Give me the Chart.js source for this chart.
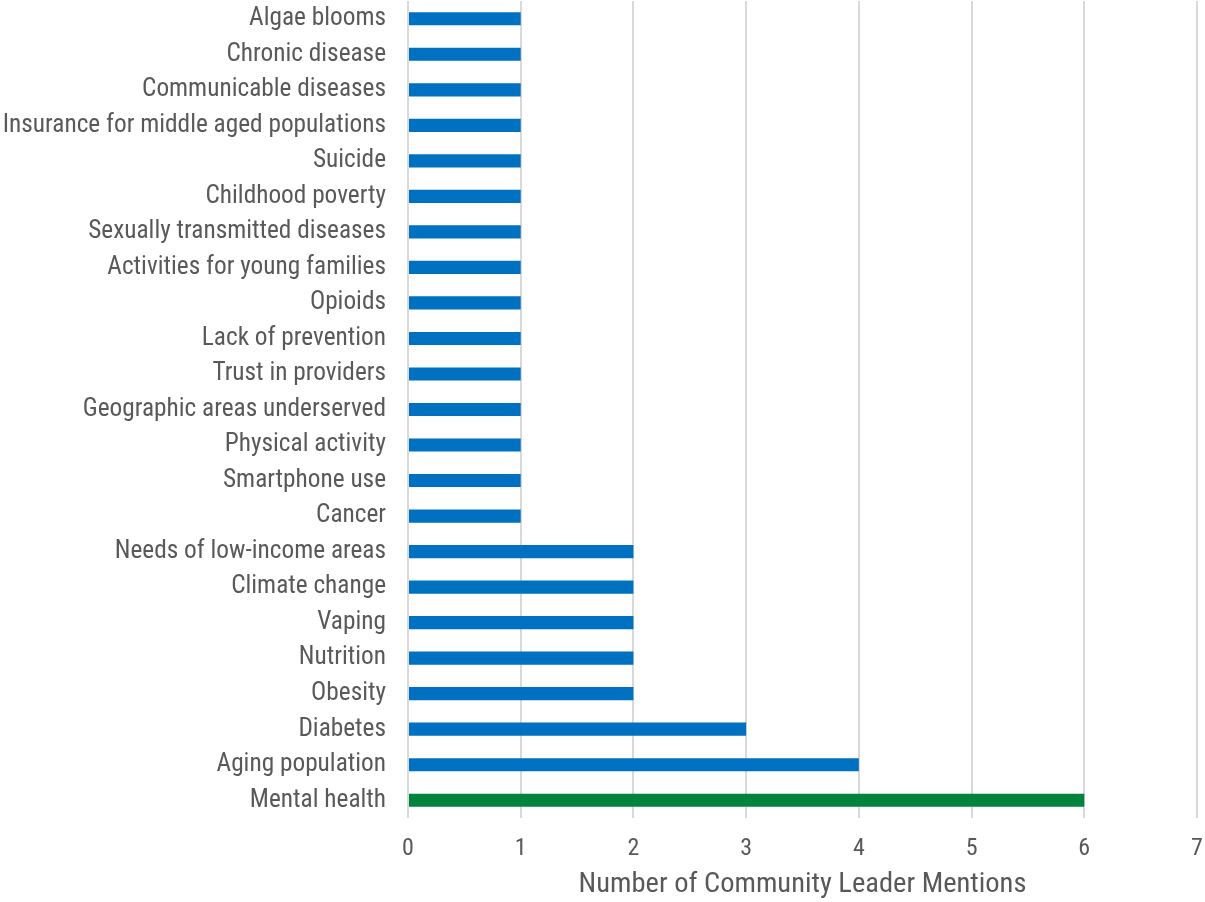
<!DOCTYPE html>
<html>
<head>
<meta charset="utf-8">
<script src="https://cdn.jsdelivr.net/npm/chart.js"></script>
<style>
  html, body { margin: 0; padding: 0; background: #fff; }
  #wrap { width: 1205px; height: 902px; }
</style>
</head>
<body>
<div id="wrap"><canvas id="myChart"></canvas></div>
<script>
// categories, top to bottom
const topics = [
  "Algae blooms", "Chronic disease", "Communicable diseases",
  "Insurance for middle aged populations", "Suicide", "Childhood poverty",
  "Sexually transmitted diseases", "Activities for young families", "Opioids",
  "Lack of prevention", "Trust in providers", "Geographic areas underserved",
  "Physical activity", "Smartphone use", "Cancer", "Needs of low-income areas",
  "Climate change", "Vaping", "Nutrition", "Obesity", "Diabetes",
  "Aging population", "Mental health"
];
const mentions = [1, 1, 1, 1, 1, 1, 1, 1, 1, 1, 1, 1, 1, 1, 1, 2, 2, 2, 2, 2, 3, 4, 6];
const xTicks = [0, 1, 2, 3, 4, 5, 6, 7];

const blue = "#0070c0";
const green = "#00843d";
const barColors = topics.map(t => t === "Mental health" ? green : blue);

const font = "'Roboto Condensed', sans-serif";
const grey = "#595959";

new Chart("myChart", {
  type: "bar",
  data: {
    labels: topics,
    datasets: [{
      data: mentions,
      backgroundColor: barColors,
      categoryPercentage: 1,
      barPercentage: 0.37
    }]
  },
  options: {
    indexAxis: "y",
    responsive: true,
    maintainAspectRatio: false,
    animation: false,
    layout: { padding: { top: 1, right: 8, left: 0, bottom: 0 } },
    plugins: {
      legend: { display: false },
      tooltip: { enabled: false }
    },
    scales: {
      x: {
        min: 0,
        max: 7,
        afterBuildTicks: axis => { axis.ticks = xTicks.map(v => ({ value: v })); },
        afterFit: s => { s.height = 84; s.paddingLeft = 0; s.paddingRight = 0; },
        grid: { color: "#d9d9d9", lineWidth: 2, drawTicks: false },
        border: { display: false },
        ticks: { color: grey, font: { family: font, size: 24 }, padding: 17, maxRotation: 0 },
        title: {
          display: true,
          text: "Number of Community Leader Mentions",
          color: grey,
          font: { family: font, size: 28.5 },
          padding: { top: 0, bottom: 0 }
        }
      },
      y: {
        grid: { display: false, drawTicks: false },
        border: { display: false },
        ticks: { color: grey, font: { family: font, size: 25.3 }, padding: 22, autoSkip: false },
        afterFit: s => { s.width = 408; s.paddingTop = 0; s.paddingBottom = 0; }
      }
    }
  }
});
</script>
</body>
</html>
